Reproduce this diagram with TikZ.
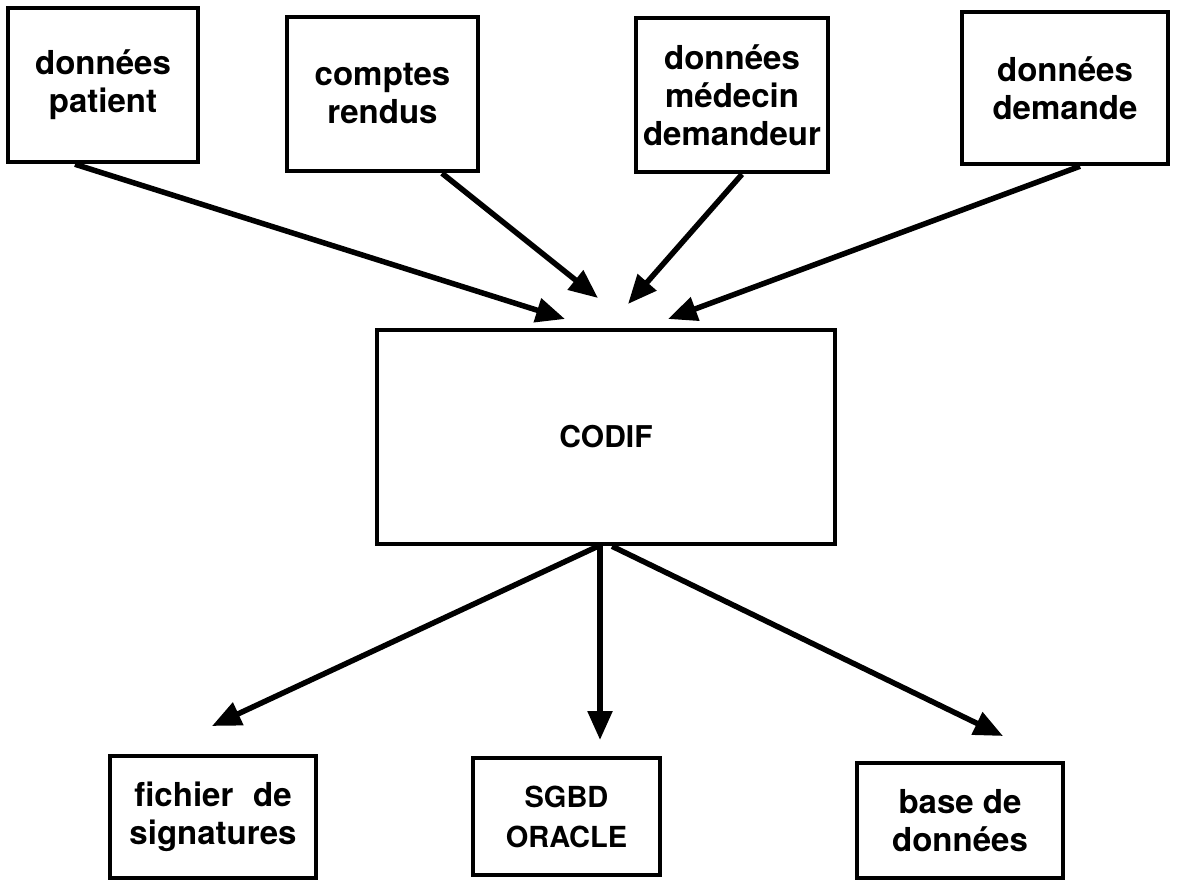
\documentclass[tikz,border=0pt]{standalone}
\usepackage{fontspec}
\setmainfont{TeX Gyre Heros}
\usetikzlibrary{arrows.meta}
\begin{document}
\begin{tikzpicture}[x=1pt,y=-1pt,
  box/.style={draw,line width=4.5pt,rectangle,inner sep=0pt,align=center,
    font=\fontsize{33}{38}\selectfont\bfseries},
  flow/.style={line width=5.5pt,-{Triangle[length=29pt,width=24pt]}}]
  \useasboundingbox (0,0) rectangle (1178,880);
  % input boxes
  \node[box,minimum width=190pt,minimum height=154pt] (p1) at (103,85) {données\\patient};
  \node[box,minimum width=191pt,minimum height=154pt] (p2) at (382.5,94) {comptes\\rendus};
  \node[box,minimum width=192pt,minimum height=154pt] (p3) at (732,95) {données\\médecin\\demandeur};
  \node[box,minimum width=206pt,minimum height=152pt] (p4) at (1065,88) {données\\demande};
  % central program
  \node[box,minimum width=458pt,minimum height=214pt,font=\fontsize{30}{36}\selectfont\bfseries] (codif) at (606,437) {CODIF};
  % outputs
  \node[box,minimum width=206pt,minimum height=122pt] (o1) at (213,817) {fichier\hspace{0.6em}de\\signatures};
  \node[box,minimum width=187pt,minimum height=117pt,font=\fontsize{29}{40}\selectfont\bfseries] (o2) at (566.5,816.5) {SGBD\\ORACLE};
  \node[box,minimum width=206pt,minimum height=115pt] (o3) at (960,820.5) {base de\\données};
  % arrow end points
  \coordinate (t1) at (565,319);
  \coordinate (t2) at (598,298);
  \coordinate (t3) at (628,304);
  \coordinate (t4) at (668,319);
  \coordinate (u1) at (212,726);
  \coordinate (u2) at (600,740);
  \coordinate (u3) at (1003,736);
  % incoming flows
  \draw[flow] ([xshift=-28pt]p1.south) -- (t1);
  \draw[flow] ([xshift=59.5pt]p2.south) -- (t2);
  \draw[flow] ([xshift=10pt]p3.south) -- (t3);
  \draw[flow] ([xshift=15pt]p4.south) -- (t4);
  % outgoing flows
  \draw[flow] ([xshift=-8pt]codif.south) -- (u1);
  \draw[flow] ([xshift=-6pt]codif.south) -- (u2);
  \draw[flow] ([xshift=6pt]codif.south) -- (u3);
\end{tikzpicture}
\end{document}
